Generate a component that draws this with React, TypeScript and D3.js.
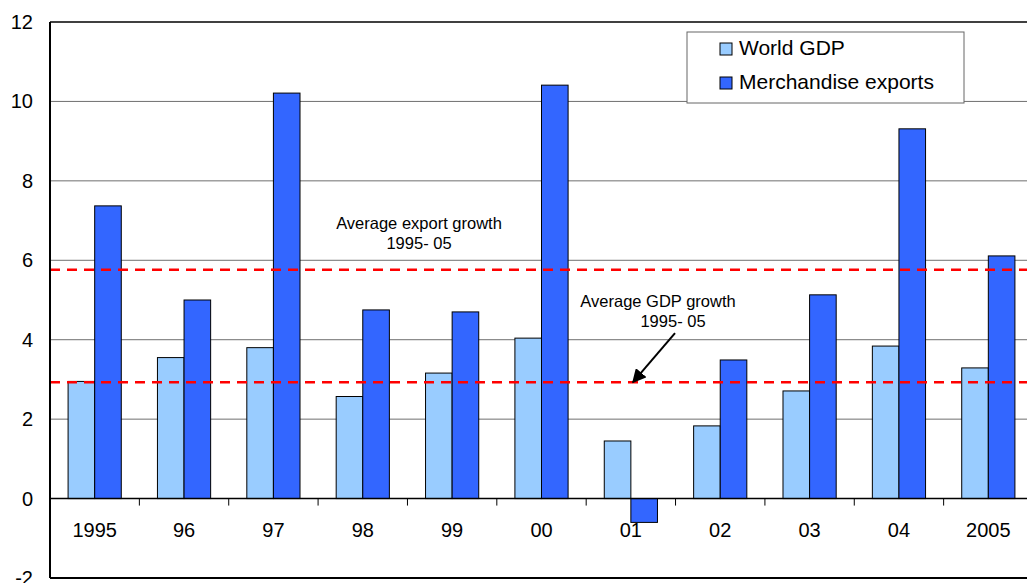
import * as d3 from "d3";

const years = ["1995", "96", "97", "98", "99", "00", "01", "02", "03", "04", "2005"];
const worldGdp = [2.95, 3.55, 3.8, 2.57, 3.16, 4.04, 1.45, 1.83, 2.71, 3.84, 3.29];
const exportsGrowth = [7.37, 5.0, 10.21, 4.75, 4.7, 10.41, -0.6, 3.49, 5.13, 9.31, 6.11];
const avgExport = 5.76;
const avgGdp = 2.93;
const yTicks = [-2, 0, 2, 4, 6, 8, 10, 12];
const seriesNames = ["World GDP", "Merchandise exports"];
const colors = ["#99CCFF", "#3366FF"];

const W = 1027;
const H = 583;
const font = "Arial, 'Liberation Sans', sans-serif";

export default function App() {
  const x = d3.scaleBand<string>().domain(years).range([50, 1033]).paddingInner(0).paddingOuter(0);
  const inner = d3.scaleBand<number>().domain([0, 1]).range([0, x.bandwidth()]).paddingOuter(0.68).paddingInner(0);
  const y = d3.scaleLinear().domain([-2, 12]).range([578, 22]);
  const left = 50;
  const right = 1033;

  const bars = years.flatMap((yr, i) =>
    [worldGdp[i], exportsGrowth[i]].map((v, s) => ({
      key: `${yr}-${s}`,
      x: (x(yr) ?? 0) + (inner(s) ?? 0),
      w: inner.bandwidth(),
      y: y(Math.max(0, v)),
      h: Math.abs(y(v) - y(0)),
      fill: colors[s],
    }))
  );

  const arrowEnd = { x: 633, y: y(avgGdp) };
  const arrowStart = { x: 675, y: y(avgGdp) - 49 };

  return (
    <svg width={W} height={H} style={{ position: "absolute", left: 0, top: 0, background: "#fff" }} fontFamily={font}>
      <defs>
        <marker id="ah" viewBox="0 0 10 10" refX="9" refY="5" markerWidth="7" markerHeight="7" orient="auto-start-reverse">
          <path d="M0,0 L10,5 L0,10 z" fill="#000" />
        </marker>
      </defs>

      {yTicks.filter((t) => t > 0 && t < 12).map((t) => (
        <line key={t} x1={left} x2={right} y1={y(t)} y2={y(t)} stroke="#6f6f6f" strokeWidth={1} />
      ))}

      {bars.map((b) => (
        <rect key={b.key} x={b.x} y={b.y} width={b.w} height={b.h} fill={b.fill} stroke="#000" strokeWidth={1} />
      ))}

      <line x1={left} x2={right} y1={y(avgExport)} y2={y(avgExport)} stroke="#FF0000" strokeWidth={2.5} strokeDasharray="10 7" />
      <line x1={left} x2={right} y1={y(avgGdp)} y2={y(avgGdp)} stroke="#FF0000" strokeWidth={2.5} strokeDasharray="10 7" />

      {/* frame */}
      <line x1={left} x2={right} y1={y(12)} y2={y(12)} stroke="#000" strokeWidth={1.5} />
      <line x1={left} x2={right} y1={y(-2)} y2={y(-2)} stroke="#000" strokeWidth={2} />
      <line x1={left} x2={left} y1={y(12)} y2={y(-2)} stroke="#000" strokeWidth={2} />
      <line x1={left} x2={right} y1={y(0)} y2={y(0)} stroke="#000" strokeWidth={1.5} />

      {years.slice(1).map((yr) => (
        <line key={yr} x1={x(yr)} x2={x(yr)} y1={y(0)} y2={y(0) + 7} stroke="#000" strokeWidth={1} />
      ))}

      {yTicks.map((t) => (
        <text key={t} x={33} y={y(t)} dy="0.35em" textAnchor="end" fontSize={20} fill="#000">
          {t}
        </text>
      ))}

      {years.map((yr) => (
        <text key={yr} x={(x(yr) ?? 0) + x.bandwidth() / 2} y={530} dy="0.35em" textAnchor="middle" fontSize={20} fill="#000">
          {yr}
        </text>
      ))}

      <text x={419} y={223} dy="0.35em" textAnchor="middle" fontSize={16.5} fill="#000">Average export growth</text>
      <text x={419} y={243} dy="0.35em" textAnchor="middle" fontSize={16.5} fill="#000">1995- 05</text>
      <text x={658} y={301} dy="0.35em" textAnchor="middle" fontSize={16.5} fill="#000">Average GDP growth</text>
      <text x={673} y={321} dy="0.35em" textAnchor="middle" fontSize={16.5} fill="#000">1995- 05</text>
      <line x1={arrowStart.x} y1={arrowStart.y} x2={arrowEnd.x} y2={arrowEnd.y} stroke="#000" strokeWidth={2} markerEnd="url(#ah)" />

      <g>
        <rect x={687} y={32} width={277} height={71} fill="#fff" stroke="#666" strokeWidth={1} />
        {seriesNames.map((n, i) => (
          <g key={n}>
            <rect x={720} y={(i === 0 ? 49 : 83) - 6} width={12} height={12} fill={colors[i]} stroke="#000" strokeWidth={1} />
            <text x={739} y={i === 0 ? 48 : 82} dy="0.35em" fontSize={21} fill="#000">{n}</text>
          </g>
        ))}
      </g>
    </svg>
  );
}
